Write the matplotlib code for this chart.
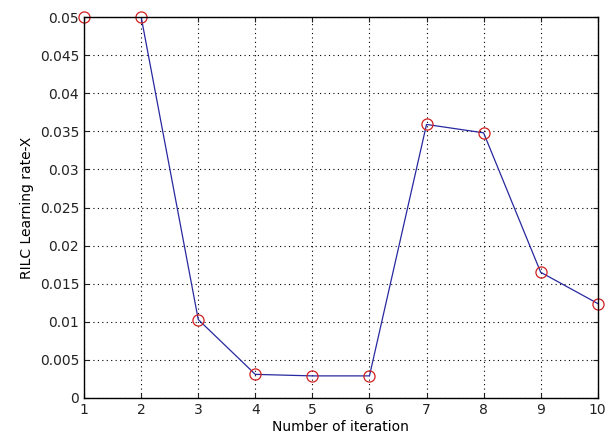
import numpy as np
import matplotlib.pyplot as plt

iteration = [1, 2, 3, 4, 5, 6, 7, 8, 9, 10]
rate = [0.05, 0.05, 0.0103, 0.0031, 0.0029, 0.0029, 0.0359, 0.0348, 0.0165, 0.0124]

fig = plt.figure(figsize=(6.05, 4.43), dpi=100)
ax = fig.add_axes([0.139, 0.1016, 0.849, 0.86])

ax.plot(iteration, rate, color='#2828a0', linewidth=0.9)
ax.plot(iteration, rate, 'o', markerfacecolor='none', markeredgecolor='#d02020',
        markersize=8, markeredgewidth=0.9, clip_on=False)

ax.set_xlim(1, 10)
ax.set_ylim(0, 0.05)
ax.set_xticks(range(1, 11))
ax.set_yticks(np.arange(0, 0.0501, 0.005))
ax.set_yticklabels(['0', '0.005', '0.01', '0.015', '0.02', '0.025', '0.03',
                    '0.035', '0.04', '0.045', '0.05'])
ax.grid(True, linestyle=(0, (1, 3)), color='black', linewidth=0.8)
ax.tick_params(direction='in', top=True, right=True, labelsize=10, colors='#222222')
for s in ax.spines.values():
    s.set_linewidth(1.0)

ax.set_xlabel('Number of iteration', fontsize=10, labelpad=2)
ax.set_ylabel('RILC Learning rate-X', fontsize=10, labelpad=4)

plt.savefig('out.png', dpi=100)
